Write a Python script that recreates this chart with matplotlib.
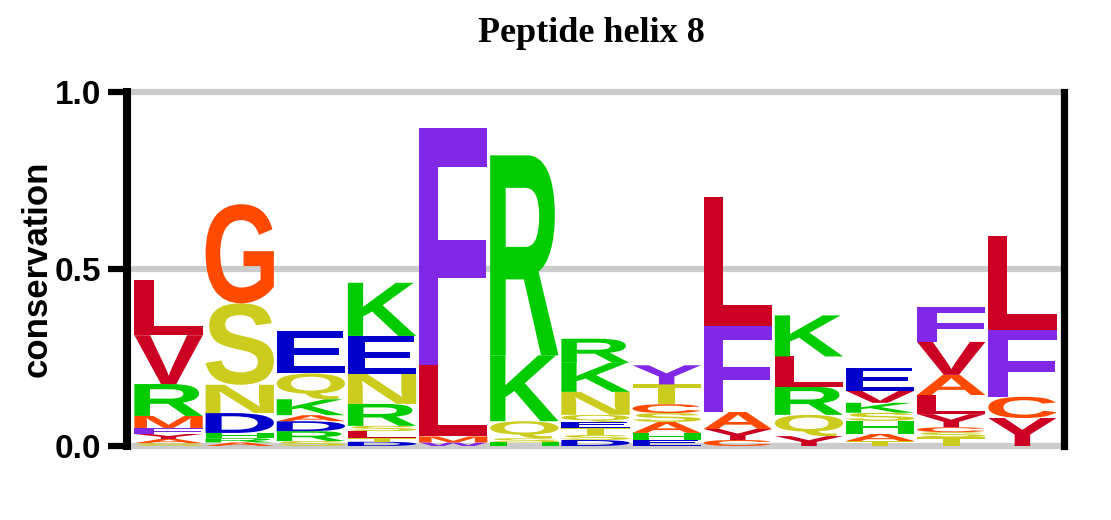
import matplotlib
matplotlib.use("Agg")
import matplotlib.pyplot as plt
import matplotlib.transforms as mtransforms
from matplotlib.textpath import TextPath
from matplotlib.patches import PathPatch
from matplotlib.font_manager import FontProperties

# letters of each position, listed top to bottom, with their heights
letters = [
    "LVRMFYAS",
    "GSNDHRA",
    "EQKADRS",
    "KENRSLTD",
    "FLMW",
    "RKQSH",
    "RKNQETSD",
    "YTCSAHE",
    "LFAYC",
    "KLRQY",
    "EVKSHAT",
    "FVALYCST",
    "LFCY",
]
heights = [
    [0.155, 0.138, 0.090, 0.034, 0.017, 0.014, 0.012, 0.008],
    [0.280, 0.230, 0.080, 0.056, 0.015, 0.012, 0.010],
    [0.121, 0.073, 0.045, 0.017, 0.028, 0.028, 0.014],
    [0.150, 0.107, 0.085, 0.062, 0.015, 0.020, 0.010, 0.012],
    [0.667, 0.203, 0.017, 0.010],
    [0.565, 0.186, 0.048, 0.012, 0.010],
    [0.068, 0.082, 0.065, 0.020, 0.017, 0.020, 0.014, 0.017],
    [0.054, 0.056, 0.025, 0.025, 0.031, 0.020, 0.017],
    [0.364, 0.243, 0.048, 0.031, 0.017],
    [0.116, 0.085, 0.080, 0.060, 0.028],
    [0.065, 0.034, 0.028, 0.023, 0.037, 0.020, 0.014],
    [0.099, 0.093, 0.057, 0.054, 0.037, 0.014, 0.014, 0.025],
    [0.263, 0.190, 0.060, 0.079],
]
yticks = [0.0, 0.5, 1.0]
ytick_labels = ["0.0", "0.5", "1.0"]

RED, ORANGE, YELLOW = "#cc0022", "#ff4a00", "#cccc1e"
BLUE, GREEN, PURPLE = "#0000cc", "#00cc00", "#8028e6"
colors = {
    "L": RED, "V": RED, "I": RED, "Y": RED,
    "G": ORANGE, "A": ORANGE, "C": ORANGE, "M": ORANGE,
    "S": YELLOW, "N": YELLOW, "Q": YELLOW, "T": YELLOW,
    "E": BLUE, "D": BLUE,
    "K": GREEN, "R": GREEN, "H": GREEN,
    "F": PURPLE, "W": PURPLE,
}
color_override = {(8, "Y"): PURPLE}

fp = FontProperties(family="Liberation Sans", weight="bold")


def draw_letter(ax, ch, x0, y0, w, h, color):
    tp = TextPath((0, 0), ch, size=1, prop=fp)
    bb = tp.get_extents()
    t = (mtransforms.Affine2D()
         .translate(-bb.x0, -bb.y0)
         .scale(w / bb.width, h / bb.height)
         .translate(x0, y0))
    ax.add_patch(PathPatch(t.transform_path(tp), facecolor=color,
                           edgecolor="none", zorder=3))


fig = plt.figure(figsize=(11.11, 5.2), dpi=100)
ax = fig.add_axes([133 / 1111, 74 / 520, 925 / 1111, 354 / 520])

# spines first: moving a spine resets the ticks
ax.spines["top"].set_visible(False)
ax.spines["bottom"].set_visible(False)
ax.spines["left"].set_linewidth(5.8)
ax.spines["left"].set_position(("outward", 4))
ax.spines["right"].set_linewidth(5.2)
ax.spines["right"].set_position(("outward", 4))

for i, (col, hs) in enumerate(zip(letters, heights), start=1):
    y = 0.0
    for ch, h in reversed(list(zip(col, hs))):
        c = color_override.get((i, ch), colors[ch])
        draw_letter(ax, ch, i - 0.48, y, 0.96, h, c)
        y += h

for yv in yticks:
    ax.axhline(yv, color="#cccccc", lw=4.5, zorder=1, clip_on=False)

ax.set_xlim(0.5, len(letters) + 0.5)
ax.set_ylim(0, 1)
ax.set_xticks([])
ax.set_yticks(yticks)
ax.set_yticklabels(ytick_labels, fontsize=24, fontweight="bold",
                   family="Liberation Sans")
ax.tick_params(axis="y", length=14, width=4.5, pad=5)
ax.set_ylabel("conservation", fontsize=25, fontweight="bold",
              family="Liberation Sans", labelpad=1)

fig.text(591 / 1111, 1 - 42 / 520, "Peptide helix 8", ha="center",
         va="baseline", fontsize=26, fontweight="bold",
         family="Liberation Serif")

fig.savefig("out.png", dpi=100)
